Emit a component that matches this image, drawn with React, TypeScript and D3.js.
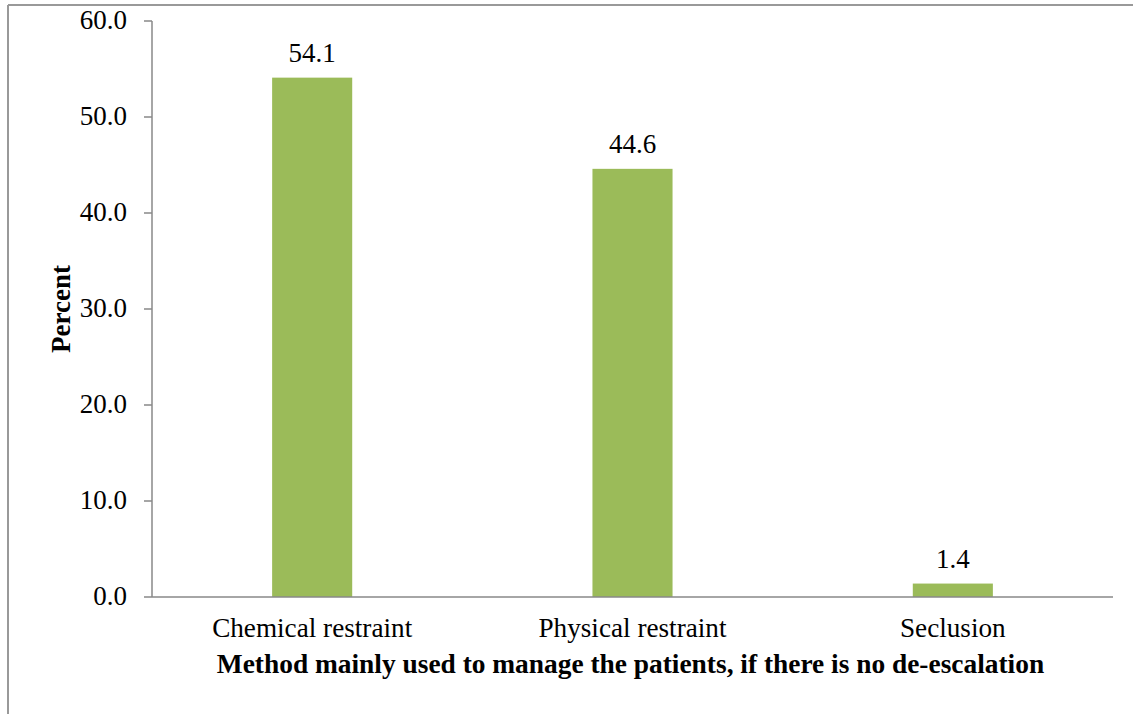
import React from "react";
import * as d3 from "d3";

// Chart data
const categories: string[] = ["Chemical restraint", "Physical restraint", "Seclusion"];
const percents: number[] = [54.1, 44.6, 1.4];
const yTicks: number[] = [0, 10, 20, 30, 40, 50, 60];
const yLabel = "Percent";
const xLabel = "Method mainly used to manage the patients, if there is no de-escalation";

const W = 1133;
const H = 714;
const M = { left: 152, right: 1113, top: 21, bottom: 597 };
const FONT = "'Liberation Serif', 'Times New Roman', Times, serif";
const AXIS = "#898989";
const BAR = "#9BBB59";

export default function App() {
  const x = d3
    .scaleBand<string>()
    .domain(categories)
    .range([M.left, M.right])
    .paddingInner(0.75)
    .paddingOuter(0.375);
  const y = d3.scaleLinear().domain([0, 60]).range([M.bottom, M.top]);

  return (
    <svg
      width={W}
      height={H}
      style={{ position: "absolute", left: 0, top: 0, background: "#fff", fontFamily: FONT }}
    >
      {/* outer frame */}
      <line x1={8} y1={5} x2={W} y2={5} stroke="#999" strokeWidth={2} />
      <line x1={8} y1={5} x2={8} y2={H} stroke="#999" strokeWidth={2} />

      {/* bars */}
      {categories.map((c, i) => (
        <rect
          key={c}
          x={x(c)}
          y={y(percents[i])}
          width={x.bandwidth()}
          height={y(0) - y(percents[i])}
          fill={BAR}
        />
      ))}

      {/* value labels */}
      {categories.map((c, i) => (
        <text
          key={c}
          x={(x(c) as number) + x.bandwidth() / 2}
          y={y(percents[i]) - 16}
          textAnchor="middle"
          fontSize={27}
          fill="#000"
        >
          {percents[i].toFixed(1)}
        </text>
      ))}

      {/* y axis */}
      <line x1={M.left} y1={M.top} x2={M.left} y2={M.bottom} stroke={AXIS} strokeWidth={1.5} />
      {yTicks.map((t) => (
        <g key={t}>
          <line x1={M.left - 8} x2={M.left} y1={y(t)} y2={y(t)} stroke={AXIS} strokeWidth={1.5} />
          <text x={127} y={y(t) + 8} textAnchor="end" fontSize={27} fill="#000">
            {t.toFixed(1)}
          </text>
        </g>
      ))}

      {/* x axis */}
      <line x1={M.left} y1={M.bottom} x2={M.right} y2={M.bottom} stroke={AXIS} strokeWidth={1.5} />
      {categories.map((c) => (
        <text
          key={c}
          x={(x(c) as number) + x.bandwidth() / 2}
          y={637}
          textAnchor="middle"
          fontSize={27.2}
          fill="#000"
        >
          {c}
        </text>
      ))}

      {/* axis titles */}
      <text
        x={630.5}
        y={673}
        textAnchor="middle"
        fontSize={27.4}
        fontWeight="bold"
        fill="#000"
      >
        {xLabel}
      </text>
      <text
        transform={`translate(70, ${(M.top + M.bottom) / 2}) rotate(-90)`}
        textAnchor="middle"
        fontSize={27}
        fontWeight="bold"
        fill="#000"
      >
        {yLabel}
      </text>
    </svg>
  );
}
